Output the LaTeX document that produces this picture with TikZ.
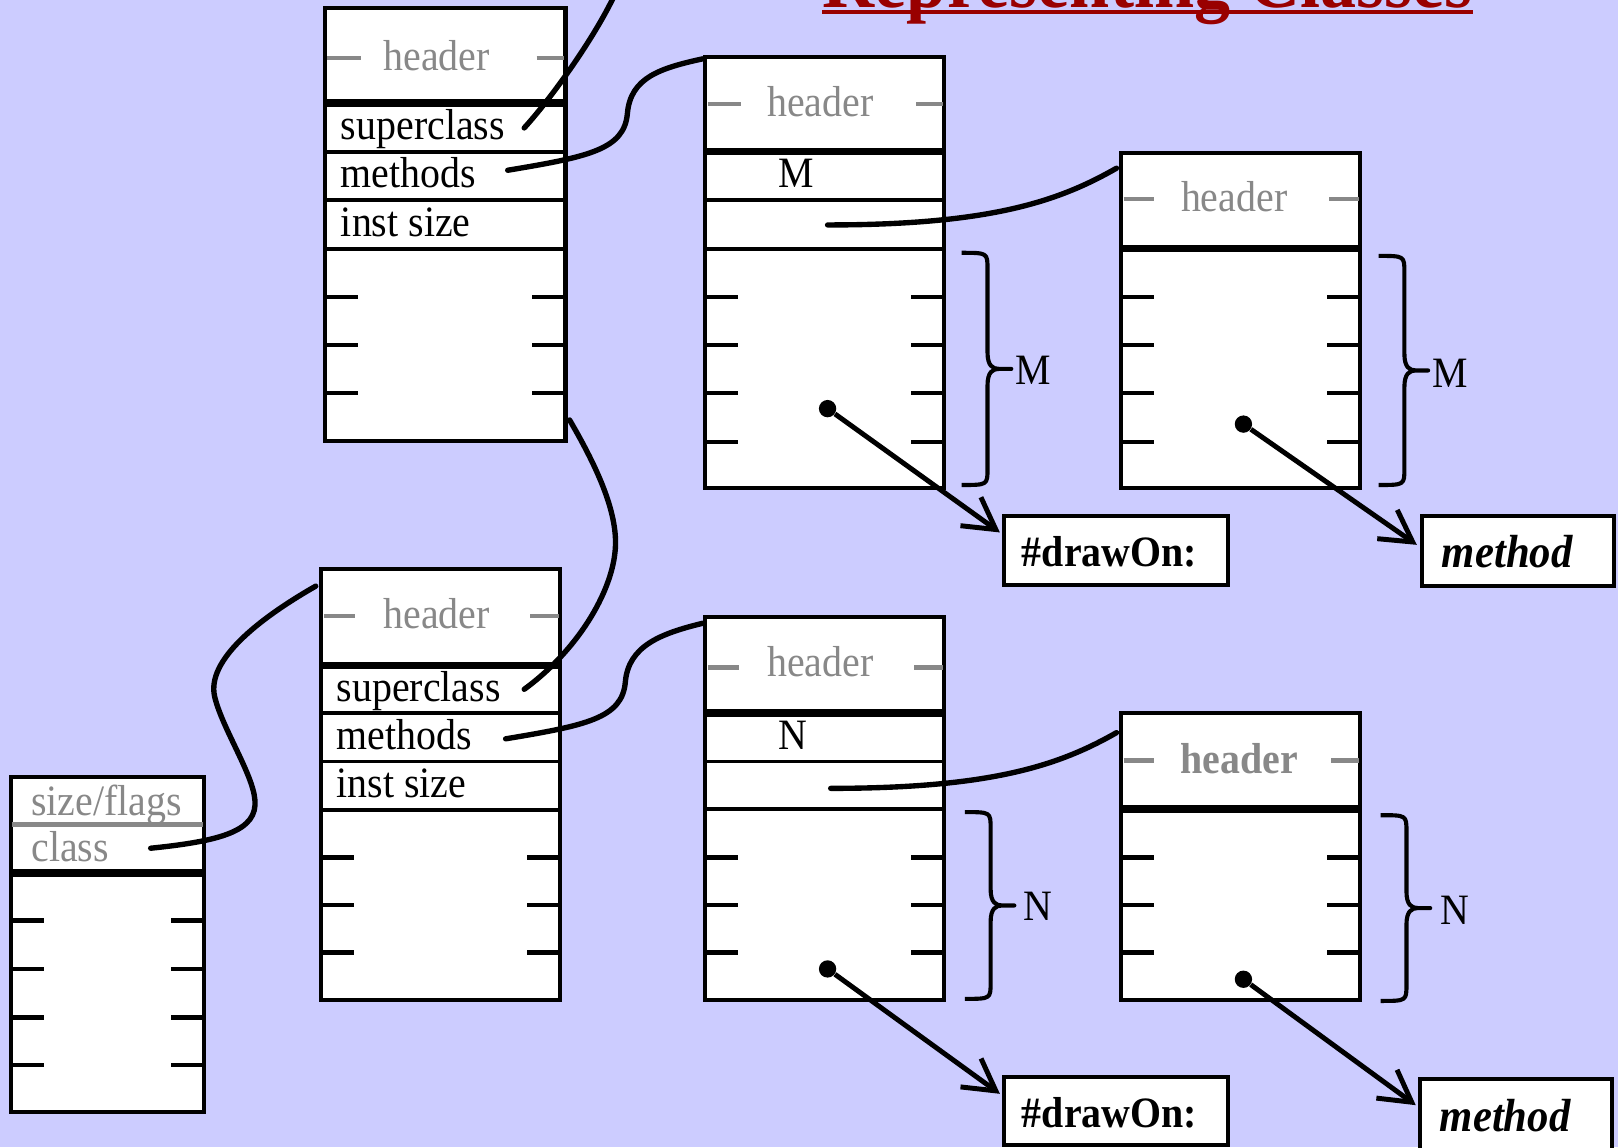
\documentclass[tikz,border=0pt]{standalone}
\usepackage{fontspec}
\newfontfamily\cellfont[FakeStretch=0.92]{Liberation Serif}
\usetikzlibrary{calc,fit,arrows.meta}
\definecolor{bgblue}{HTML}{CCCCFF}
\definecolor{titlered}{HTML}{990000}
\definecolor{hdrgray}{HTML}{888888}

% a right-hand curly brace: left x, top y, bottom y, name of its tip
\newcommand\sidebrace[4]{%
  \pgfmathsetmacro\bxa{#1+25}%
  \pgfmathsetmacro\bxb{#1+36}%
  \pgfmathsetmacro\bxt{#1+48}%
  \pgfmathsetmacro\bym{(#2+#3)/2}%
  \draw[bracesty] (#1,#2) .. controls (\bxa,#2) .. (\bxa,{#2+16})
    -- (\bxa,{\bym-16}) .. controls (\bxa,{\bym-3}) and ({\bxa+5},\bym) .. (\bxb,\bym)
    -- (\bxt,\bym) -- (\bxb,\bym)
    .. controls ({\bxa+5},\bym) and (\bxa,{\bym+3}) .. (\bxa,{\bym+16})
    -- (\bxa,{#3-16}) .. controls (\bxa,#3) .. (#1,#3);
  \coordinate (#4) at (\bxt,\bym);
}
% slot ticks on both inner sides of a box: left x, right x, list of y
\newcommand\slotticks[3]{%
  \foreach \ty in {#3} {
    \draw[tickmark] (#1,\ty) -- ++(32,0);
    \draw[tickmark] (#2,\ty) -- ++(-32,0);
  }
}

\begin{document}
\begin{tikzpicture}[x=0.5pt,y=-0.5pt,
  frame/.style={draw=black, line width=2pt, fill=white, inner sep=0pt},
  rowsep/.style={line width=1.8pt},
  hdrsep/.style={line width=3.6pt},
  tickmark/.style={line width=2pt},
  hdash/.style={draw=hdrgray, line width=2.2pt},
  ptr/.style={line width=2.6pt, line cap=round},
  bracesty/.style={line width=2pt, line join=round},
  txt/.style={font=\cellfont\fontsize{21}{25}\selectfont, inner sep=0pt},
  hdr/.style={txt, text=hdrgray},
  dot/.style={circle, fill=black, inner sep=0pt, minimum size=8.4pt},
  refarrow/.style={line width=2.4pt, -{Straight Barb[length=15pt,width=17pt]}}
]
\fill[bgblue] (0,0) rectangle (1568,1112);
\useasboundingbox (0,0) rectangle (1568,1112);
\clip (0,0) rectangle (1568,1112);

% title
\node[anchor=base west, inner sep=0pt, text=titlered,
      font=\cellfont\fontsize{38}{44}\selectfont\bfseries] (title) at (797,7) {Representing Classes};
\draw[titlered, line width=2pt] ($(title.base west)+(0,5)$) -- ($(title.base east)+(0,5)$);

% ---------- class object (top) ----------
\node[frame, fit={(315,8)(548,427)}] (A) {};
\draw[hdrsep] (315,100) -- (548,100);
\draw[rowsep] (315,147) -- (548,147);
\draw[rowsep] (315,194) -- (548,194);
\draw[rowsep] (315,241) -- (548,241);
\draw[hdash] (317,56) -- (350,56);
\draw[hdash] (520,56) -- (547,56);
\node[hdr, anchor=base] (Ahdr) at (423,68) {header};
\node[txt, anchor=base west] (Asup) at (330,135) {superclass};
\node[txt, anchor=base west] (Ameth) at (330,182) {methods};
\node[txt, anchor=base west] (Asize) at (330,229) {inst size};
\slotticks{315}{548}{288,334,381}
\coordinate (Asupp) at (508,124);
\coordinate (Amethp) at (492,165);
\coordinate (Aup) at (600,-15);

% ---------- method dictionary (top) ----------
\node[frame, fit={(683,55)(915,473)}] (B) {};
\draw[hdrsep] (683,147) -- (915,147);
\draw[rowsep] (683,194) -- (915,194);
\draw[rowsep] (683,241) -- (915,241);
\draw[hdash] (686,101) -- (718,101);
\draw[hdash] (888,101) -- (914,101);
\node[hdr, anchor=base] (Bhdr) at (795,113) {header};
\node[txt, anchor=base] (Bsize) at (772,182) {M};
\slotticks{683}{915}{288,334,381,428}
\coordinate (Bvalp) at (802,218);
\node[dot] (Bdot) at (802,396) {};
\sidebrace{932}{245}{470}{Bbr}
\node[txt, anchor=base west] (Blab) at (984,373) {M};

% ---------- method array (top) ----------
\node[frame, fit={(1086,148)(1318,473)}] (C) {};
\draw[hdrsep] (1086,241) -- (1318,241);
\draw[hdash] (1089,193) -- (1118,193);
\draw[hdash] (1288,193) -- (1317,193);
\node[hdr, anchor=base] (Chdr) at (1196,205) {header};
\slotticks{1086}{1318}{288,334,381,428}
\node[dot] (Cdot) at (1205,411) {};
\sidebrace{1336}{248}{470}{Cbr}
\node[txt, anchor=base west] (Clab) at (1388,376) {M};

% selector and method (top)
\node[frame, fit={(973,500)(1190,567)}] (Dsel) {};
\node[txt, anchor=base west, font=\cellfont\fontsize{21}{25}\selectfont\bfseries] (Dseltxt) at (990,549) {\#drawOn:};
\node[frame, fit={(1378,500)(1564,568)}] (Dmeth) {};
\node[txt, anchor=base west, font=\cellfont\fontsize{22.5}{26}\selectfont\bfseries\itshape] (Dmethtxt) at (1397,550) {method};
\coordinate (Dseltip) at ($(Dsel.north west)+(-2,18)$);
\coordinate (Dmethtip) at ($(Dmeth.north west)+(-3,30)$);

% ---------- class object (bottom) ----------
\node[frame, fit={(311,551)(543,969)}] (E) {};
\draw[hdrsep] (311,645) -- (543,645);
\draw[rowsep] (311,691) -- (543,691);
\draw[rowsep] (311,738) -- (543,738);
\draw[rowsep] (311,785) -- (543,785);
\draw[hdash] (314,597) -- (344,597);
\draw[hdash] (514,597) -- (542,597);
\node[hdr, anchor=base] (Ehdr) at (423,609) {header};
\node[txt, anchor=base west] (Esup) at (326,680) {superclass};
\node[txt, anchor=base west] (Emeth) at (326,726) {methods};
\node[txt, anchor=base west] (Esize) at (326,773) {inst size};
\slotticks{311}{543}{831,877,923}
\coordinate (Esupp) at (508,668);
\coordinate (Emethp) at (490,716);

% ---------- method dictionary (bottom) ----------
\node[frame, fit={(683,598)(915,969)}] (F) {};
\draw[hdrsep] (683,691) -- (915,691);
\draw[rowsep] (683,738) -- (915,738);
\draw[rowsep] (683,784) -- (915,784);
\draw[hdash] (686,647) -- (716,647);
\draw[hdash] (886,647) -- (914,647);
\node[hdr, anchor=base] (Fhdr) at (795,656) {header};
\node[txt, anchor=base] (Fsize) at (768,726) {N};
\slotticks{683}{915}{831,877,923}
\coordinate (Fvalp) at (805,764);
\node[dot] (Fdot) at (802,939) {};
\sidebrace{935}{787}{968}{Fbr}
\node[txt, anchor=base west] (Flab) at (991,892) {N};

% ---------- method array (bottom) ----------
\node[frame, fit={(1086,691)(1318,969)}] (G) {};
\draw[hdrsep] (1086,784) -- (1318,784);
\draw[hdash] (1089,737) -- (1118,737);
\draw[hdash] (1290,737) -- (1317,737);
\node[hdr, anchor=base, font=\cellfont\fontsize{21}{25}\selectfont\bfseries] (Ghdr) at (1201,750) {header};
\slotticks{1086}{1318}{831,877,923}
\node[dot] (Gdot) at (1205,949) {};
\sidebrace{1338}{790}{970}{Gbr}
\node[txt, anchor=base west] (Glab) at (1396,896) {N};

% selector and method (bottom)
\node[frame, fit={(973,1044)(1190,1110)}] (Hsel) {};
\node[txt, anchor=base west, font=\cellfont\fontsize{21}{25}\selectfont\bfseries] (Hseltxt) at (990,1093) {\#drawOn:};
\node[frame, fit={(1376,1046)(1562,1120)}] (Hmeth) {};
\node[txt, anchor=base west, font=\cellfont\fontsize{22.5}{26}\selectfont\bfseries\itshape] (Hmethtxt) at (1395,1097) {method};
\coordinate (Hseltip) at ($(Hsel.north west)+(-2,18)$);
\coordinate (Hmethtip) at ($(Hmeth.north west)+(-2,27)$);

% ---------- instance ----------
\node[frame, fit={(11,753)(198,1078)}] (I) {};
\draw[draw=hdrgray, line width=2pt] (12,799) -- (197,799);
\draw[hdrsep] (11,846) -- (198,846);
\node[hdr, anchor=base west] (Iflags) at (30,790) {size/flags};
\node[hdr, anchor=base west] (Iclass) at (30,835) {class};
\slotticks{11}{198}{892,939,986,1032}
\coordinate (Iclassp) at (146,822);

% ---------- pointers ----------
\draw[ptr] (Asupp) .. controls (538,91) and (584,25) .. (Aup);
\draw[ptr] (Amethp) .. controls (570,152) and (605,145) .. (608,110)
  .. controls (611,75) and (640,66) .. ($(B.north west)+(0,4)$);
\draw[ptr] (Bvalp) .. controls (960,218) and (1026,195) .. ($(C.north west)+(-2,17)$);
\draw[ptr] ($(A.south east)+(2,-22)$) .. controls (580,455) and (600,500) .. (596,535)
  .. controls (592,575) and (560,630) .. (Esupp);
\draw[ptr] (Emethp) .. controls (568,703) and (603,696) .. (606,661)
  .. controls (609,626) and (640,614) .. ($(F.north west)+(0,8)$);
\draw[ptr] (Fvalp) .. controls (960,764) and (1026,742) .. ($(G.north west)+(-2,21)$);
\draw[ptr] (Iclassp) .. controls (215,815) and (250,805) .. (247,775)
  .. controls (245,750) and (215,705) .. (208,675)
  .. controls (200,640) and (250,600) .. ($(E.north west)+(-3,19)$);

\draw[refarrow] (Bdot) -- (Dseltip);
\draw[refarrow] (Cdot) -- (Dmethtip);
\draw[refarrow] (Fdot) -- (Hseltip);
\draw[refarrow] (Gdot) -- (Hmethtip);
\end{tikzpicture}
\end{document}
